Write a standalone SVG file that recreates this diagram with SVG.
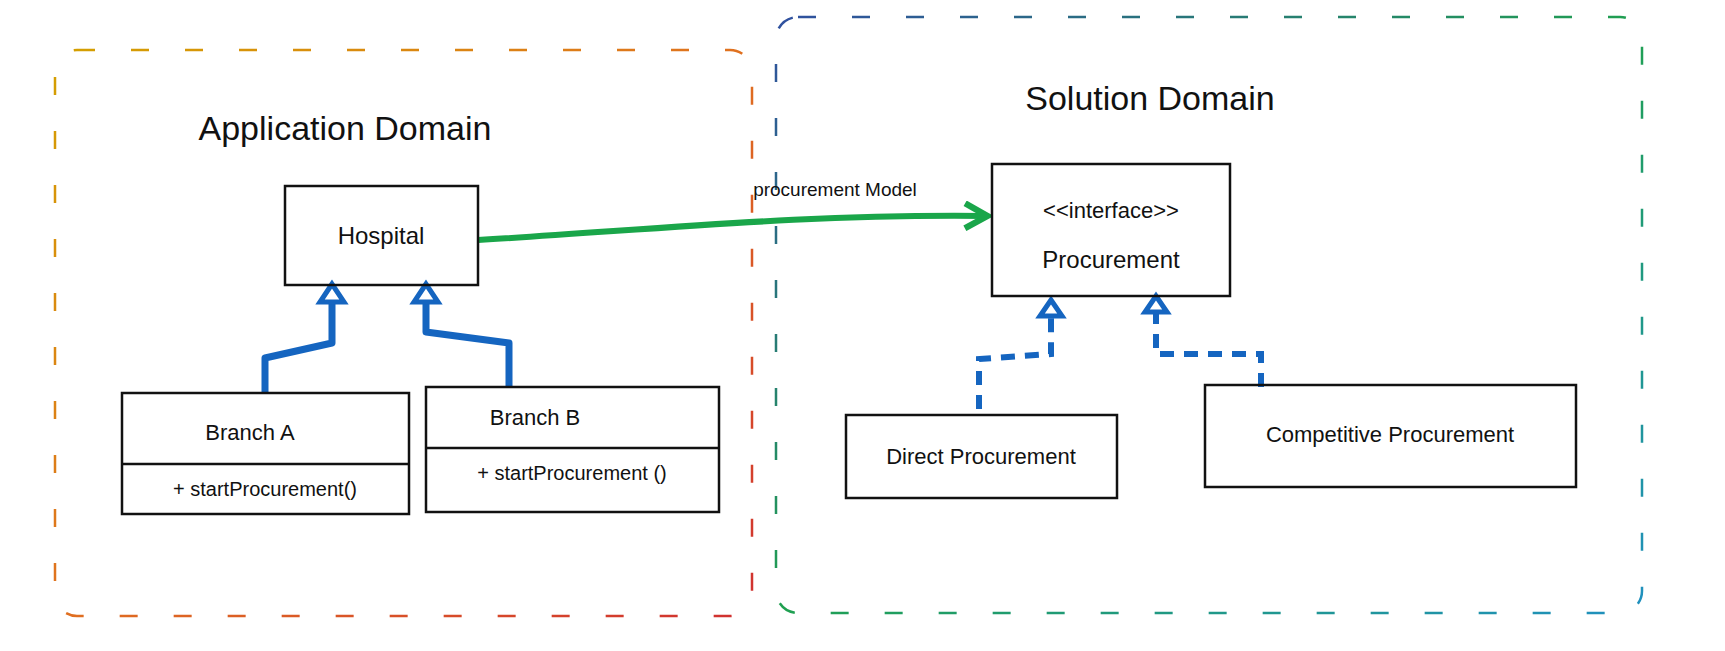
<svg xmlns="http://www.w3.org/2000/svg" width="1725" height="651" viewBox="0 0 1725 651">
<style>
.box{fill:none;stroke:#111;stroke-width:2.5}
.t{font-family:"Liberation Sans",Arial,sans-serif;fill:#111;font-size:22px;text-anchor:middle}
.title{font-size:34px}
.gen{fill:none;stroke:#1565c0;stroke-width:7;stroke-linejoin:round}
.real{fill:none;stroke:#1565c0;stroke-width:6;stroke-dasharray:14 10}
.tri{fill:#fff;stroke:#1565c0;stroke-width:5}
</style>
<defs>
<linearGradient id="lg" x1="0" y1="0" x2="1" y2="1"><stop offset="0" stop-color="#d4a000"/><stop offset="0.5" stop-color="#e07020"/><stop offset="1" stop-color="#d03030"/></linearGradient>
<linearGradient id="rg" x1="0" y1="0" x2="1" y2="1"><stop offset="0" stop-color="#3050a0"/><stop offset="0.5" stop-color="#20a050"/><stop offset="1" stop-color="#2090c0"/></linearGradient>
<marker id="ga" viewBox="0 0 12 12" refX="9" refY="6" markerWidth="5" markerHeight="5" orient="auto"><path d="M1,1 L10,6 L1,11" fill="none" stroke="#1aa64a" stroke-width="2.5"/></marker>
</defs>
<g id="appDomain">
<rect x="55" y="50" width="697" height="566" rx="22" fill="none" stroke="url(#lg)" stroke-width="2.5" stroke-dasharray="18 36"/>
<text class="t title" x="345" y="140">Application  Domain</text>
</g>
<g id="solDomain">
<rect x="776" y="17" width="866" height="596" rx="22" fill="none" stroke="url(#rg)" stroke-width="2.5" stroke-dasharray="18 36"/>
<text class="t title" x="1150" y="110">Solution  Domain</text>
</g>
<g id="connectors">
<path d="M478,240 C650,230 800,214 985,216" fill="none" stroke="#1aa64a" stroke-width="6" marker-end="url(#ga)"/>
<text class="t" x="835" y="196" style="font-size:19px">procurement Model</text>
<path class="gen" d="M265,393 L265,358 L332,343 L332,300"/>
<polygon class="tri" points="332,284 320,302 344,302"/>
<path class="gen" d="M509,387 L509,343 L426,332 L426,300"/>
<polygon class="tri" points="426,284 414,302 438,302"/>
<path class="real" d="M979,409 L979,359 L1051,354 L1051,316"/>
<polygon class="tri" points="1051,300 1040,316 1062,316"/>
<path class="real" d="M1261,387 L1261,354 L1156,354 L1156,312"/>
<polygon class="tri" points="1156,296 1145,312 1167,312"/>
</g>
<g id="hospital"><rect class="box" x="285" y="186" width="193" height="99"/><text class="t" x="381" y="244" style="font-size:24px">Hospital</text></g>
<g id="procurement"><rect class="box" x="992" y="164" width="238" height="132"/><text class="t" x="1111" y="218">&lt;&lt;interface&gt;&gt;</text><text class="t" x="1111" y="268" style="font-size:24px">Procurement</text></g>
<g id="branchA"><rect class="box" x="122" y="393" width="287" height="121"/><line class="box" x1="122" y1="464" x2="409" y2="464"/><text class="t" x="250" y="440">Branch A</text><text class="t" x="265" y="496" style="font-size:20px">+ startProcurement()</text></g>
<g id="branchB"><rect class="box" x="426" y="387" width="293" height="125"/><line class="box" x1="426" y1="448" x2="719" y2="448"/><text class="t" x="535" y="425">Branch B</text><text class="t" x="572" y="480" style="font-size:20px">+ startProcurement ()</text></g>
<g id="direct"><rect class="box" x="846" y="415" width="271" height="83"/><text class="t" x="981" y="464">Direct Procurement</text></g>
<g id="competitive"><rect class="box" x="1205" y="385" width="371" height="102"/><text class="t" x="1390" y="442">Competitive Procurement</text></g>
</svg>
